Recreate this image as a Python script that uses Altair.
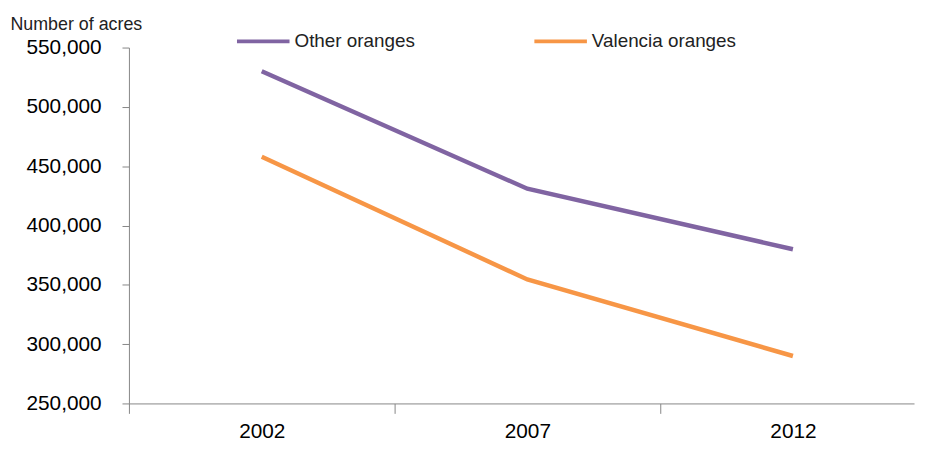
import altair as alt
import pandas as pd

years = [2002, 2007, 2012]
other_oranges = [530000, 431000, 380000]
valencia_oranges = [458000, 354500, 290000]
series_names = ["Other oranges", "Valencia oranges"]
series_colors = ["#8064A2", "#F79646"]
y_ticks = [250000, 300000, 350000, 400000, 450000, 500000, 550000]
x_boundaries = [1999.5, 2004.5, 2009.5]

rows = []
for name, vals in zip(series_names, [other_oranges, valencia_oranges]):
    for yr, v in zip(years, vals):
        rows.append({"Year": yr, "Acres": v, "Series": name})
df = pd.DataFrame(rows)

FONT = "Liberation Sans"

chart = alt.Chart(df).mark_line(strokeWidth=4.5).encode(
    x=alt.X("Year:Q",
            scale=alt.Scale(domain=[1999.5, 2014.28], nice=False, zero=False),
            axis=alt.Axis(values=x_boundaries, title=None,
                          labelExpr="format(datum.value + 2.5, 'd')",
                          labelOffset=134, tickSize=10, labelPadding=7,
                          labelFontSize=21, labelFont=FONT, labelColor="#000",
                          domainColor="#868686", tickColor="#868686",
                          labelBound=False, labelOverlap=False, labelFlush=False,
                          grid=False)),
    y=alt.Y("Acres:Q",
            scale=alt.Scale(domain=[250000, 550000], nice=False, zero=False),
            axis=alt.Axis(values=y_ticks, format=",.0f", title="Number  of acres",
                          titleAngle=0, titleAlign="left", titleBaseline="alphabetic",
                          titleX=-120, titleY=-18, titleFontSize=18,
                          titleFontWeight="normal", titleFont=FONT, titleColor="#222",
                          labelFontSize=21, labelFont=FONT, labelColor="#000",
                          labelPadding=21, tickSize=7,
                          domainColor="#868686", tickColor="#868686", grid=False)),
    color=alt.Color("Series:N",
                    scale=alt.Scale(domain=series_names, range=series_colors),
                    legend=alt.Legend(title=None, orient="none", direction="horizontal",
                                      legendX=107, legendY=-35,
                                      symbolType="stroke", symbolSize=2809,
                                      symbolStrokeWidth=4, labelFontSize=19,
                                      labelFont=FONT, labelColor="#222",
                                      labelOffset=3, columnPadding=88,
                                      gridAlign="all", labelLimit=300)),
).properties(
    width=792, height=359,
    autosize=alt.AutoSizeParams(type="none"),
    padding={"left": 122, "top": 38, "right": 4, "bottom": 38},
    background="white",
).configure_view(stroke=None)

chart.save("out.html", embed_options={"renderer": "svg", "actions": False})
